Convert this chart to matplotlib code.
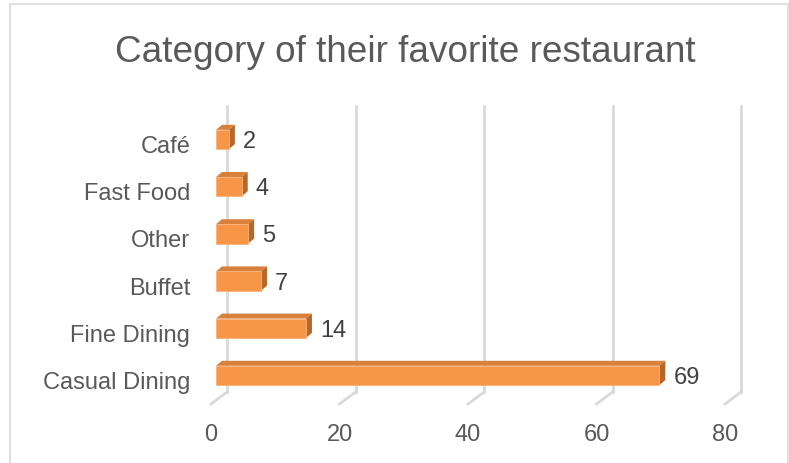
import matplotlib
matplotlib.use("Agg")
import matplotlib.pyplot as plt
from matplotlib.patches import Rectangle, Polygon

plt.rcParams['font.family'] = ['Liberation Sans', 'DejaVu Sans']

# data
categories = ["Casual Dining", "Fine Dining", "Buffet", "Other", "Fast Food", "Café"]
counts = [69, 14, 7, 5, 4, 2]
xticks = [0, 20, 40, 60, 80]

W, H = 789, 464
fig = plt.figure(figsize=(W / 100, H / 100), dpi=100)

# outer border
fig.patches.append(Rectangle((10 / W, -0.05), 778 / W, 1.05 - 5 / H, transform=fig.transFigure,
                             fill=False, edgecolor="#d9d9d9", linewidth=1.2))

fig.text(405 / W, 1 - 62 / H, "Category of their favorite restaurant", ha="center", va="baseline",
         fontsize=26.6, color="#595959")

# front plane of the floor, in pixels
left, right, bottom, top = 211, 725, 405, 119
ax = fig.add_axes([left / W, (H - bottom) / H, (right - left) / W, (bottom - top) / H])
ylo, yhi = -0.52, 5.54
ax.set_xlim(0, 80)
ax.set_ylim(ylo, yhi)
ax.set_facecolor("none")
for s in ax.spines.values():
    s.set_visible(False)

ux = 80 / (right - left)        # data units per pixel
uy = (yhi - ylo) / (bottom - top)

grid_c = "#d9d9d9"
wall_dx, wall_dy = 16 * ux, 12 * uy
for t in xticks:
    ax.plot([t + wall_dx, t + wall_dx], [ylo + wall_dy, yhi + wall_dy], color=grid_c, lw=2,
            zorder=1, clip_on=False)
    ax.plot([t, t + wall_dx], [ylo, ylo + wall_dy], color=grid_c, lw=2, zorder=1, clip_on=False)

# 3D bars
bh = 0.41
fx, fy = 5 * ux, 4 * uy          # front face offset
dx, dy = 6 * ux, 5 * uy          # bar depth
front_c, top_c, side_c = "#f79646", "#d9813b", "#b5682c"
for i, v in enumerate(counts):
    x0 = fx
    yb = i - bh / 2 + fy
    yt = i + bh / 2 + fy
    ax.add_patch(Polygon([(x0, yt), (x0 + v, yt), (x0 + v + dx, yt + dy), (x0 + dx, yt + dy)],
                         closed=True, facecolor=top_c, edgecolor="none", zorder=3))
    ax.add_patch(Polygon([(x0 + v, yb), (x0 + v + dx, yb + dy), (x0 + v + dx, yt + dy), (x0 + v, yt)],
                         closed=True, facecolor=side_c, edgecolor="none", zorder=3))
    ax.add_patch(Rectangle((x0, yb), v, bh, facecolor=front_c, edgecolor="#fbb27a", lw=0.6, zorder=4))
    ax.annotate(str(v), (x0 + v, i + fy), xytext=(14 * 0.72, -1.5 * 0.72), textcoords="offset points",
                ha="left", va="center", fontsize=17, color="#404040")

ax.set_yticks(range(len(categories)))
ax.set_yticklabels(categories)
ax.set_xticks(xticks)
ax.tick_params(axis="both", length=0, labelsize=17, colors="#595959")
ax.tick_params(axis="y", pad=15)
ax.tick_params(axis="x", pad=14)

fig.savefig("out.png", dpi=100)
